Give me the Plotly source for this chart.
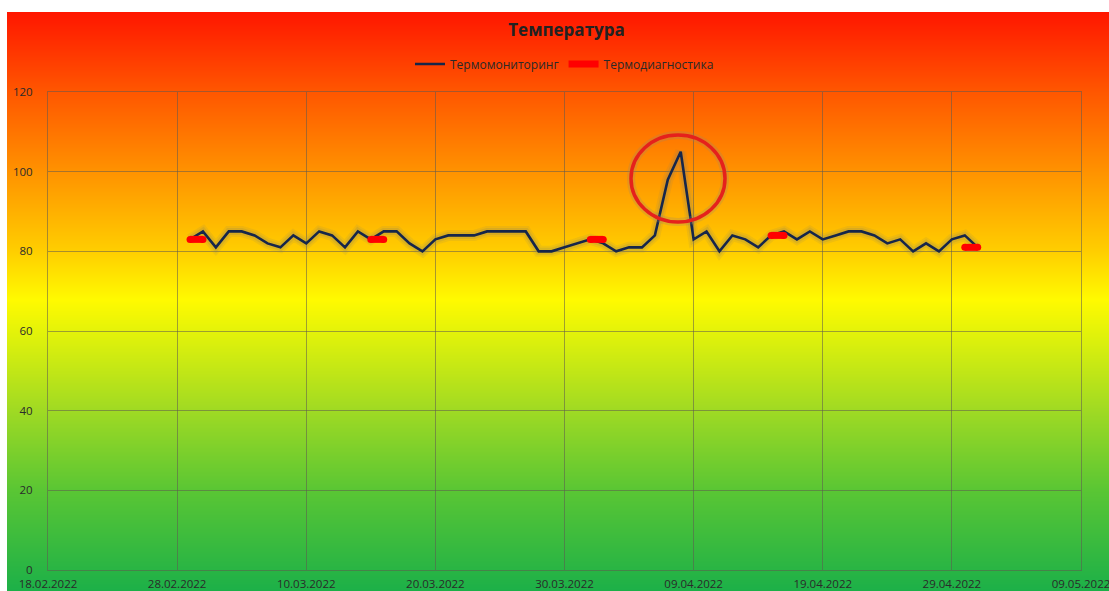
import base64
import struct
import zlib

import pandas as pd
import plotly.graph_objects as go

# ---------------- data ----------------
monitor_start = "2022-03-01"
monitor_values = [
    83, 85, 81, 85, 85, 84, 82, 81, 84, 82,
    85, 84, 81, 85, 83, 85, 85, 82, 80, 83,
    84, 84, 84, 85, 85, 85, 85, 80, 80, 81,
    82, 83, 82, 80, 81, 81, 84, 98, 105, 83,
    85, 80, 84, 83, 81, 84, 85, 83, 85, 83,
    84, 85, 85, 84, 82, 83, 80, 82, 80, 83,
    84, 81,
]
monitor_dates = pd.date_range(monitor_start, periods=len(monitor_values), freq="D")

diag_dates = [
    ("2022-03-01", "2022-03-02"),
    ("2022-03-15", "2022-03-16"),
    ("2022-04-01", "2022-04-02"),
    ("2022-04-15", "2022-04-16"),
    ("2022-04-30", "2022-05-01"),
]
diag_values = [83, 83, 83, 84, 81]

x_range = ["2022-02-18", "2022-05-09"]
y_range = [0, 120]

title_text = "Температура"
name_monitor = "Термомониторинг"
name_diag = "Термодиагностика"

# ---------------- layout geometry ----------------
W, H = 1109, 591
L, R, T, B = 48, 1081, 92, 570  # plot area pixels
FONT = "Open Sans, Noto Sans, DejaVu Sans, sans-serif"

# ---------------- gradient background image ----------------
bg_top, bg_left = 12, 7
stops = [
    (12, (255, 22, 0)),
    (90, (255, 85, 0)),
    (170, (255, 145, 0)),
    (250, (255, 205, 0)),
    (300, (255, 250, 0)),
    (335, (225, 242, 10)),
    (410, (160, 218, 35)),
    (490, (90, 198, 52)),
    (591, (28, 176, 72)),
]


def color_at(py):
    for (y0, c0), (y1, c1) in zip(stops[:-1], stops[1:]):
        if y0 <= py <= y1:
            t = (py - y0) / (y1 - y0)
            return tuple(int(round(a + (b - a) * t)) for a, b in zip(c0, c1))
    return stops[-1][1]


def make_png(rows):
    width = 1
    height = len(rows)
    raw = b"".join(b"\x00" + bytes(c) for c in rows)

    def chunk(tag, data):
        return (struct.pack(">I", len(data)) + tag + data
                + struct.pack(">I", zlib.crc32(tag + data) & 0xFFFFFFFF))

    return (b"\x89PNG\r\n\x1a\n"
            + chunk(b"IHDR", struct.pack(">IIBBBBB", width, height, 8, 2, 0, 0, 0))
            + chunk(b"IDAT", zlib.compress(raw, 9))
            + chunk(b"IEND", b""))


rows = [color_at(py + 0.5) for py in range(bg_top, H)]
png_uri = "data:image/png;base64," + base64.b64encode(make_png(rows)).decode()

pw, ph = R - L, B - T

fig = go.Figure()

# glow under monitoring line
for w, a in [(11, 0.12), (7, 0.18)]:
    fig.add_trace(go.Scatter(
        x=monitor_dates, y=monitor_values, mode="lines",
        line=dict(color=f"rgba(120,120,110,{a})", width=w),
        showlegend=False, hoverinfo="skip",
    ))

fig.add_trace(go.Scatter(
    x=monitor_dates, y=monitor_values, mode="lines", name=name_monitor,
    line=dict(color="#16264a", width=2.6),
))

dx, dy = [], []
for (d0, d1), v in zip(diag_dates, diag_values):
    dx += [d0, d1, None]
    dy += [v, v, None]

fig.add_trace(go.Scatter(
    x=dx, y=dy, mode="lines", name=name_diag,
    line=dict(color="#ff0000", width=7), connectgaps=False,
))
fig.add_trace(go.Scatter(
    x=dx, y=dy, mode="markers", showlegend=False, hoverinfo="skip",
    marker=dict(color="#ff0000", size=7, line=dict(width=0)),
))

# highlight circle around the peak
x_origin = pd.Timestamp(x_range[0])
day_px = pw / (pd.Timestamp(x_range[1]) - x_origin).days
cx_px, cy_px, rx_px, ry_px = 678, 178.5, 47, 43.5
cx0 = x_origin + pd.Timedelta(days=(cx_px - rx_px - L) / day_px)
cx1 = x_origin + pd.Timedelta(days=(cx_px + rx_px - L) / day_px)
ppu = ph / (y_range[1] - y_range[0])
cy0 = (B - (cy_px + ry_px)) / ppu
cy1 = (B - (cy_px - ry_px)) / ppu
fig.add_shape(type="circle", xref="x", yref="y", x0=cx0, x1=cx1, y0=cy0, y1=cy1,
              line=dict(color="rgba(150,130,110,0.25)", width=8), layer="above")
fig.add_shape(type="circle", xref="x", yref="y", x0=cx0, x1=cx1, y0=cy0, y1=cy1,
              line=dict(color="#e5211c", width=3.5), layer="above")

grid_c = "rgba(95,90,80,0.55)"
fig.update_layout(
    width=W, height=H,
    margin=dict(l=L, r=W - R, t=T, b=H - B, pad=0, autoexpand=False),
    paper_bgcolor="white",
    plot_bgcolor="rgba(0,0,0,0)",
    font=dict(family=FONT, size=11, color="#2a2a2a"),
    title=dict(text=f"<b>{title_text}</b>", x=(L + pw / 2 + 2) / W, xanchor="center",
               y=1 - 30 / H, yanchor="middle", yref="container",
               font=dict(family=FONT, size=17, color="#222")),
    showlegend=True,
    legend=dict(orientation="h", x=0.5, xanchor="center",
                y=(B - 64) / ph, yanchor="middle",
                bgcolor="rgba(0,0,0,0)", font=dict(size=12, color="#2a2a2a"),
                itemwidth=30, traceorder="normal"),
    images=[dict(source=png_uri, xref="paper", yref="paper",
                 x=(bg_left - L) / pw, y=(B - bg_top) / ph,
                 sizex=(W - bg_left) / pw, sizey=(H - bg_top) / ph,
                 xanchor="left", yanchor="top", sizing="stretch", layer="below")],
    xaxis=dict(type="date", range=x_range, tick0=x_range[0], dtick=10 * 86400000,
               tickformat="%d.%m.%Y", showgrid=True, gridcolor=grid_c, gridwidth=1,
               showline=True, linecolor=grid_c, mirror=True, zeroline=False,
               ticks="outside", ticklen=3, tickcolor="rgba(0,0,0,0)",
               automargin=False, ticklabeloverflow="allow",
               tickfont=dict(size=11.5, color="#2a2a2a")),
    yaxis=dict(range=y_range, dtick=20, showgrid=True, gridcolor=grid_c, gridwidth=1,
               showline=True, linecolor=grid_c, mirror=True, zeroline=False,
               ticks="outside", ticklen=12, tickcolor="rgba(0,0,0,0)",
               automargin=False,
               tickfont=dict(size=11.5, color="#2a2a2a")),
)

fig.write_html("out.html")
